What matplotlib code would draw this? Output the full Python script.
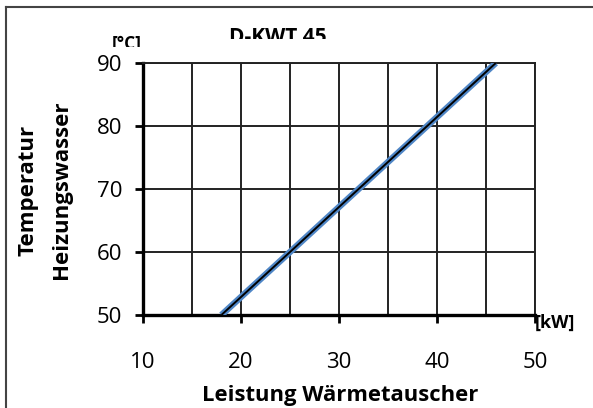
import matplotlib
matplotlib.use("Agg")
import matplotlib.pyplot as plt
from matplotlib.ticker import MultipleLocator
from matplotlib.transforms import Bbox
from matplotlib.lines import Line2D

# data
leistung_kw = [18, 46]
temperatur_c = [50, 90]
x_ticks = [10, 20, 30, 40, 50]
y_ticks = [50, 60, 70, 80, 90]

plt.rcParams["font.family"] = ["Open Sans", "DejaVu Sans"]

W, H = 593, 408
fig = plt.figure(figsize=(W / 100, H / 100), dpi=100)
ax = fig.add_axes([143 / W, 93 / H, 392 / W, 252 / H])

ax.plot(leistung_kw, temperatur_c, color="#4f86c6", lw=4.6, solid_capstyle="butt", zorder=3)
ax.plot(leistung_kw, temperatur_c, color="black", lw=1.4, solid_capstyle="butt", zorder=4)

ax.set_xlim(10, 50)
ax.set_ylim(50, 90)
ax.set_xticks(x_ticks)
ax.set_yticks(y_ticks)
ax.xaxis.set_minor_locator(MultipleLocator(5))
ax.grid(True, which="both", color="#222222", lw=1.4)
ax.set_axisbelow(True)

ax.tick_params(axis="both", which="major", direction="out", length=6, width=2,
               labelsize=16, color="black")
ax.tick_params(axis="x", which="major", pad=21)
ax.tick_params(axis="y", which="major", pad=9)
ax.tick_params(which="minor", length=0)

for side in ["left", "bottom"]:
    ax.spines[side].set_linewidth(2.4)
for side in ["top", "right"]:
    ax.spines[side].set_linewidth(1.4)
    ax.spines[side].set_color("#222222")

# axis titles
fig.text(340 / W, 1 - 396 / H, "Leistung Wärmetauscher", ha="center", va="center",
         fontsize=15.8, fontweight="bold")
fig.text(28 / W, 1 - 190 / H, "Temperatur", rotation=90, ha="center", va="center",
         fontsize=16, fontweight="bold")
fig.text(61 / W, 1 - 190 / H, "Heizungswasser", rotation=90, ha="center", va="center",
         fontsize=16, fontweight="bold")
fig.text(535 / W, 1 - 323 / H, "[kW]", ha="left", va="center",
         fontsize=13, fontweight="bold")

# title and unit, cut off at the bottom like in the source
title = fig.text(278 / W, 1 - 27 / H, "D-KWT 45", ha="center", va="top",
                 fontsize=15, fontweight="bold")
title.set_clip_box(Bbox.from_extents(0, H - 39, W, H))
unit = fig.text(127 / W, 1 - 35 / H, "[°C]", ha="center", va="top",
                fontsize=12.5, fontweight="bold")
unit.set_clip_box(Bbox.from_extents(0, H - 47, W, H))

# frame around the chart area
fig.add_artist(Line2D([6 / W, 6 / W], [0, 1 - 7 / H], color="#444444", lw=1.5))
fig.add_artist(Line2D([6 / W, 1], [1 - 7 / H, 1 - 7 / H], color="#444444", lw=1.5))

fig.savefig("out.png", dpi=100)
